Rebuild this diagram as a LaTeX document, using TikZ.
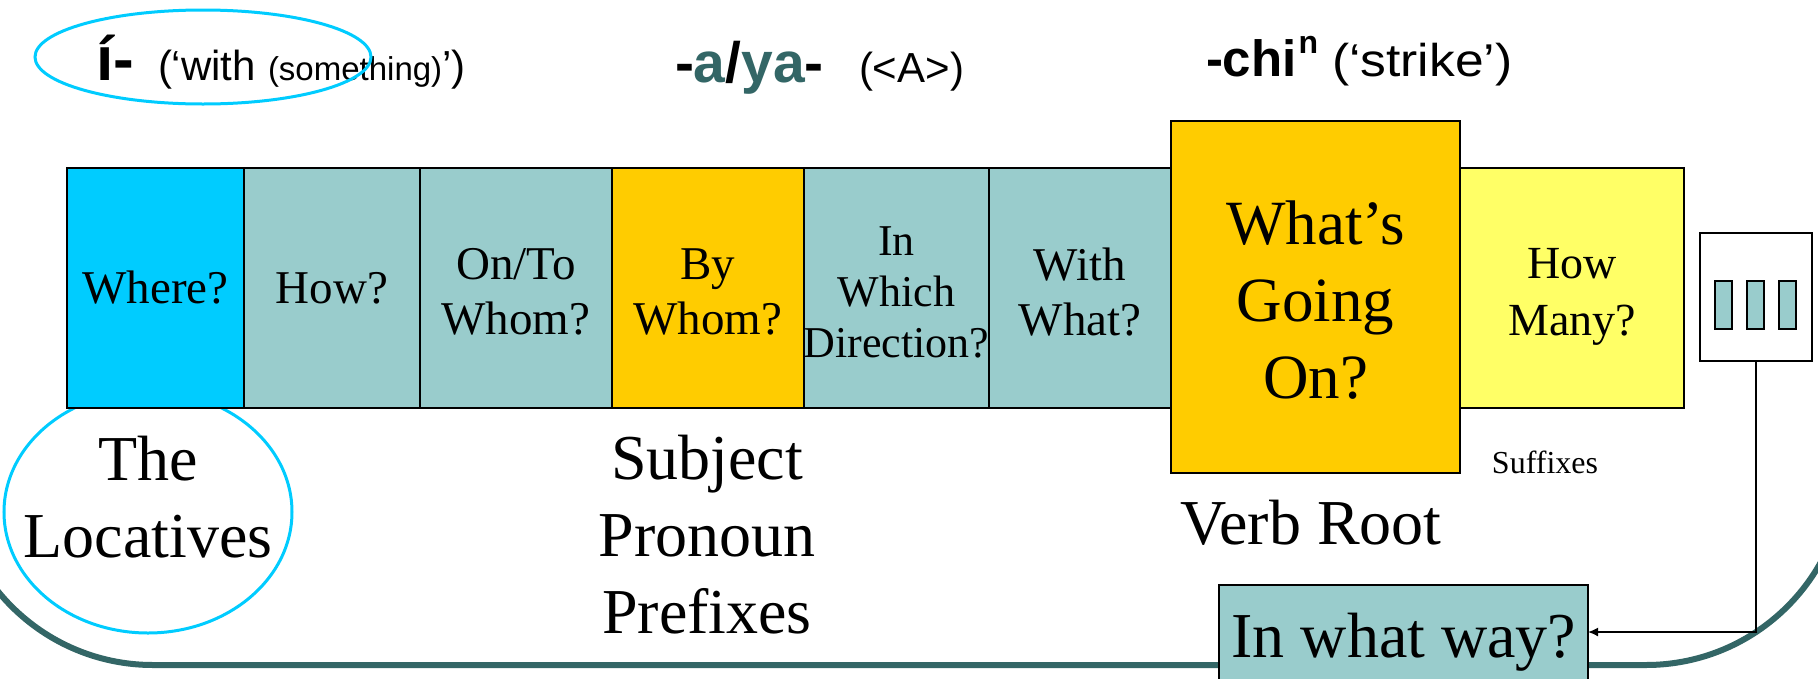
\documentclass[tikz,border=0pt]{standalone}
\usepackage{fontspec}
\setmainfont{Liberation Serif}
\newfontfamily\arialf{Liberation Sans}
\usetikzlibrary{arrows.meta,shapes.geometric}
\definecolor{cyanc}{HTML}{00CCFF}
\definecolor{tealc}{HTML}{99CCCC}
\definecolor{goldc}{HTML}{FFCC00}
\definecolor{yellc}{HTML}{FFFF66}
\definecolor{darkteal}{HTML}{336666}
\tikzset{
  cell/.style={draw=black, line width=2.2pt, anchor=north west, inner sep=0pt, outer sep=0pt},
  boxfont/.style={font=\fontsize{47}{55}\selectfont},
  bigfont/.style={font=\fontsize{64}{77}\selectfont},
  ring/.style={ellipse, draw=cyanc, line width=3pt, inner sep=0pt},
  txt/.style={inner sep=0pt, outer sep=0pt, align=center},
  toplab/.style={inner sep=0pt, outer sep=0pt, anchor=base west, font=\arialf},
  conn/.style={draw=black, line width=1.6pt, -{Latex[length=10pt,width=9pt]}},
  frameline/.style={draw=darkteal, line width=6pt, rounded corners=200pt}
}
\begin{document}
\begin{tikzpicture}[x=1pt,y=-1pt]
\useasboundingbox (0,0) rectangle (1818,678);
\clip (0,0) rectangle (1818,678);
\fill[white] (0,0) rectangle (1818,678);

% slide frame
\draw[frameline] (-47,-600) rectangle (1846,665);

% locatives ring (behind the boxes)
\node[ring, minimum width=288pt, minimum height=242pt] (locring) at (148,512) {};

% the template strip
\node[cell, fill=cyanc, minimum width=177pt, minimum height=240pt] (where) at (67,168) {};
\node[cell, fill=tealc, minimum width=176pt, minimum height=240pt] (how) at (244,168) {};
\node[cell, fill=tealc, minimum width=192pt, minimum height=240pt] (onto) at (420,168) {};
\node[cell, fill=goldc, minimum width=192pt, minimum height=240pt] (bywhom) at (612,168) {};
\node[cell, fill=tealc, minimum width=185pt, minimum height=240pt] (dir) at (804,168) {};
\node[cell, fill=tealc, minimum width=182pt, minimum height=240pt] (withwhat) at (989,168) {};
\node[cell, fill=yellc, minimum width=224pt, minimum height=240pt] (howmany) at (1460,168) {};
\node[cell, fill=goldc, minimum width=289pt, minimum height=352pt] (verb) at (1171,121) {};

\node[txt, boxfont] (wheret) at (where.center) {Where?};
\node[txt, boxfont] (howt) at (how.center) {How?};
\node[txt, boxfont] (ontot) at ([yshift=-4pt]onto.center) {On/To\\Whom?};
\node[txt, boxfont] (bywhomt) at ([yshift=-4pt]bywhom.center) {By\\Whom?};
\node[txt, font=\fontsize{44}{51}\selectfont] (dirt) at ([yshift=-4pt]dir.center) {In\\Which\\Direction?};
\node[txt, boxfont] (withwhatt) at ([yshift=-4pt]withwhat.center) {With\\What?};
\node[txt, font=\fontsize{46}{57}\selectfont] (howmanyt) at ([yshift=-9pt]howmany.center) {How\\Many?};
\node[txt, font=\fontsize{63}{77}\selectfont] (verbt) at ([yshift=-3pt]verb.center) {What’s\\Going\\On?};

% suffix box
\node[cell, fill=white, minimum width=112pt, minimum height=128pt] (small) at (1700,233) {};
\node[cell, fill=tealc, line width=2pt, minimum width=17pt, minimum height=48pt] (s1) at (1715,281) {};
\node[cell, fill=tealc, line width=2pt, minimum width=17pt, minimum height=48pt] (s2) at (1747,281) {};
\node[cell, fill=tealc, line width=2pt, minimum width=17pt, minimum height=48pt] (s3) at (1779,281) {};

% In what way box
\node[cell, fill=tealc, minimum width=369pt, minimum height=112pt] (inway) at (1219,585) {};
\node[txt, bigfont, anchor=base] (inwayt) at (1404,657) {In what way?};
\draw[conn] (small.south) |- ([yshift=9pt]inway.east);

% labels below
\node[txt, bigfont] (loclab) at (148,497) {The\\Locatives};
\node[txt, bigfont] (subj) at (707,535) {Subject\\Pronoun\\Prefixes};
\node[txt, bigfont, anchor=base] (vroot) at (1311,544) {Verb Root};
\node[txt, font=\fontsize{32}{36}\selectfont, anchor=base] (suff) at (1545,473) {Suffixes};

% top labels
\node[toplab] (p1a) at (96,80) {\fontsize{62}{62}\selectfont\bfseries í-};
\node[toplab] (p1b) at (158,80) {\fontsize{42}{42}\selectfont (‘with};
\node[toplab] (p1c) at (268,80) {\fontsize{33}{33}\selectfont (something)};
\node[toplab] (p1d) at (442,80) {\fontsize{42}{42}\selectfont ’)};
\node[toplab] (p2a) at (675,82) {\fontsize{57}{57}\selectfont\bfseries -\textcolor{darkteal}{a}/\textcolor{darkteal}{ya}-};
\node[toplab] (p2b) at (859,82) {\fontsize{42}{42}\selectfont (<A>)};
\node[toplab] (p3a) at (1206,76) {\fontsize{51}{51}\selectfont\bfseries -chi\hspace{2pt}\raisebox{23pt}{\fontsize{32}{32}\selectfont n}};
\node[toplab] (p3b) at (1332,76) {\scalebox{1.12}[1]{\fontsize{46}{46}\selectfont (‘strike’)}};
\node[ring, minimum width=336pt, minimum height=94pt] (topring) at (203,57) {};
\end{tikzpicture}
\end{document}
